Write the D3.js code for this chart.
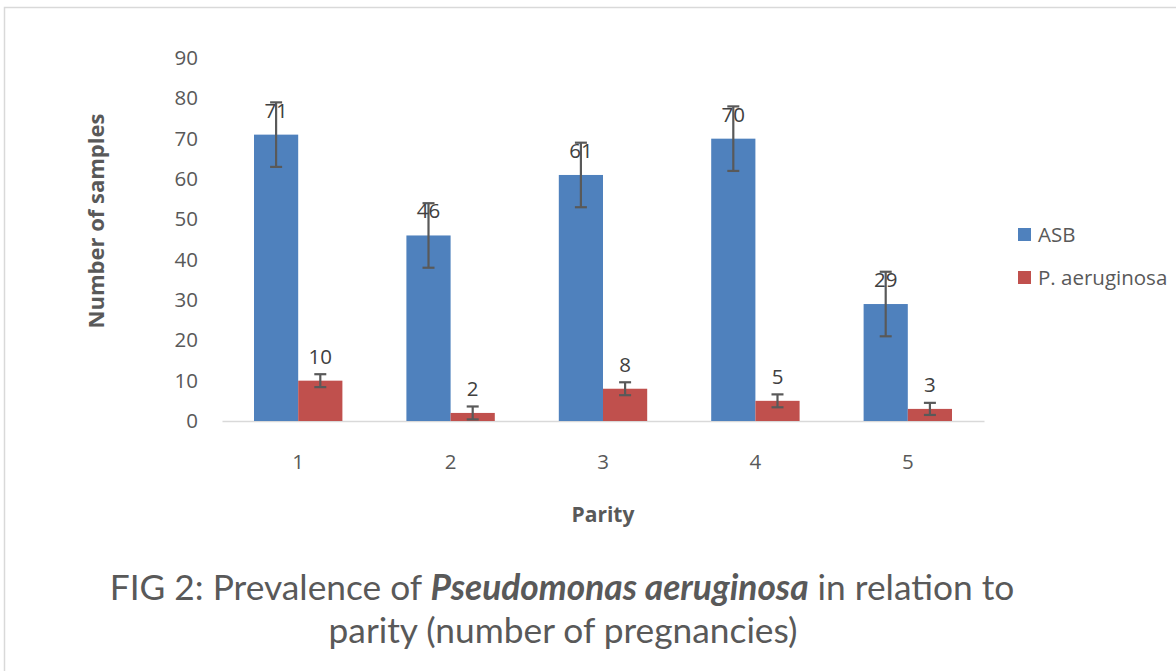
<!DOCTYPE html>
<html><head><meta charset="utf-8">
<script src="https://cdn.jsdelivr.net/npm/d3@7"></script>
<style>body{margin:0;background:#fff;} svg{display:block;}</style>
</head><body>
<svg id="c" width="1176" height="671"></svg>
<script>
const categories = ["1","2","3","4","5"];
const seriesNames = ["ASB","P. aeruginosa"];
const asbValues = [71,46,61,70,29];
const paValues = [10,2,8,5,3];
const asbErrors = [8,8,8,8,8];
const paErrors = [1.6,1.6,1.6,1.6,1.5];
const yTicks = [0,10,20,30,40,50,60,70,80,90];
const colors = ["#4F81BD","#C0504D"];

const svg = d3.select("#c");
const font = "'Open Sans', sans-serif";
const capFont = "Lato, sans-serif";
const fs = 20.5;
svg.append("rect").attr("x",4.5).attr("y",7.5).attr("width",1200).attr("height",700)
  .attr("fill","#fff").attr("stroke","#d9d9d9").attr("stroke-width",1.5);

const x0 = 222, x1 = 984, yBottom = 421, yTop = 58;
const x = d3.scaleBand().domain(categories).range([x0,x1]).paddingInner(0.42).paddingOuter(0.21);
const xs = d3.scaleBand().domain(seriesNames).range([0,x.bandwidth()]);
const y = d3.scaleLinear().domain([0,90]).range([yBottom,yTop]);

// y axis labels
const ya = svg.append("g").attr("transform",`translate(${x0},0)`)
  .call(d3.axisLeft(y).tickValues(yTicks).tickSize(0).tickPadding(24));
ya.select(".domain").remove();
ya.selectAll("text").attr("font-family",font).attr("font-size",fs).attr("fill","#595959");

// x axis
const xa = svg.append("g").attr("transform",`translate(0,${yBottom})`)
  .call(d3.axisBottom(x).tickSize(0).tickPadding(33));
xa.select(".domain").attr("stroke","#d9d9d9").attr("stroke-width",1.5);
xa.selectAll("text").attr("font-family",font).attr("font-size",fs).attr("fill","#595959");

const series = [
  {name:seriesNames[0], values:asbValues, errors:asbErrors, color:colors[0]},
  {name:seriesNames[1], values:paValues, errors:paErrors, color:colors[1]}
];

series.forEach(s=>{
  const g = svg.append("g");
  const data = categories.map((c,i)=>({c, v:s.values[i], e:s.errors[i]}));
  g.selectAll("rect").data(data).join("rect")
    .attr("x",d=>x(d.c)+xs(s.name)).attr("width",xs.bandwidth())
    .attr("y",d=>y(d.v)).attr("height",d=>y(0)-y(d.v)).attr("fill",s.color);
  const cx = d=>x(d.c)+xs(s.name)+xs.bandwidth()/2;
  g.selectAll("line.eb").data(data).join("line").attr("class","eb")
    .attr("x1",cx).attr("x2",cx).attr("y1",d=>y(d.v+d.e)).attr("y2",d=>y(d.v-d.e))
    .attr("stroke","#595959").attr("stroke-width",2.2);
  [1,-1].forEach(sg=>{
    g.selectAll("line.cap"+sg).data(data).join("line").attr("class","cap"+sg)
      .attr("x1",d=>cx(d)-6).attr("x2",d=>cx(d)+6)
      .attr("y1",d=>y(d.v+sg*d.e)).attr("y2",d=>y(d.v+sg*d.e))
      .attr("stroke","#595959").attr("stroke-width",2.2);
  });
  g.selectAll("text").data(data).join("text")
    .attr("x",cx).attr("y",d=>y(d.v)-17).attr("text-anchor","middle")
    .attr("font-family",font).attr("font-size",fs).attr("fill","#404040")
    .text(d=>d.v);
});

// axis titles
svg.append("text").attr("x",603).attr("y",522).attr("text-anchor","middle")
  .attr("font-family",font).attr("font-size",21).attr("font-weight","bold").attr("fill","#595959").text("Parity");
svg.append("text").attr("transform","translate(104,221) rotate(-90)").attr("text-anchor","middle")
  .attr("font-family",font).attr("font-size",22).attr("font-weight","bold").attr("fill","#595959").text("Number of samples");

// legend
series.forEach((s,i)=>{
  const ly = 235 + i*43;
  svg.append("rect").attr("x",1018).attr("y",ly-7).attr("width",13).attr("height",13).attr("fill",s.color);
  svg.append("text").attr("x",1038).attr("y",ly+7).attr("font-family",font).attr("font-size",fs)
    .attr("fill","#595959").text(s.name);
});

// caption
const cap = svg.append("text").attr("x",562).attr("y",600).attr("text-anchor","middle")
  .attr("font-family",capFont).attr("font-size",35.3).attr("fill","#595959");
cap.append("tspan").text("FIG 2: Prevalence of ");
cap.append("tspan").attr("font-weight","bold").attr("font-style","italic").text("Pseudomonas aeruginosa");
cap.append("tspan").text(" in relation to");
svg.append("text").attr("x",563).attr("y",643).attr("text-anchor","middle")
  .attr("font-family",capFont).attr("font-size",35.3).attr("fill","#595959").text("parity (number of pregnancies)");
</script>
</body></html>
